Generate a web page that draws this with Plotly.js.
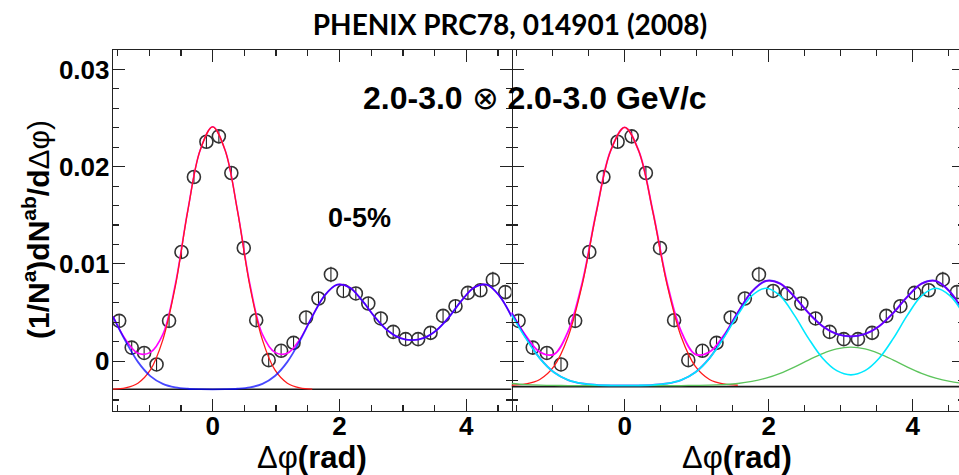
<!DOCTYPE html>
<html>
<head>
<meta charset="utf-8">
<script src="https://cdn.plot.ly/plotly-3.0.1.min.js"></script>
<style>
html, body { margin: 0; padding: 0; overflow: hidden; background: #fff; }
#chart { width: 964px; height: 475px; }
</style>
</head>
<body>
<div id="chart"></div>
<script>
// ---- data ----
const chartTitle = 'PHENIX PRC78, 014901 (2008)';
const ptLabel = '2.0-3.0 ⊗ 2.0-3.0 GeV/c';
const centLabel = '0-5%';

// bin centres of the 32 delta-phi bins (rad)
const phiBins = [-1.473, -1.276, -1.080, -0.884, -0.687, -0.491, -0.295, -0.098,
                  0.098,  0.295,  0.491,  0.687,  0.884,  1.080,  1.276,  1.473,
                  1.669,  1.865,  2.062,  2.258,  2.454,  2.651,  2.847,  3.043,
                  3.240,  3.436,  3.633,  3.829,  4.025,  4.222,  4.418,  4.614];
const pairYield = [0.00414, 0.00139, 0.00084, -0.00034, 0.00414, 0.01123, 0.01894, 0.02256,
                   0.02312, 0.01935, 0.01164, 0.00421, 0.00010, 0.00106, 0.00188, 0.00449,
                   0.00644, 0.00891, 0.00722, 0.00696, 0.00593, 0.00439, 0.00301, 0.00226,
                   0.00226, 0.00291, 0.00465, 0.00565, 0.00702, 0.00729, 0.00838, 0.00710];
const yieldErr = [0.0007, 0.0007, 0.0007, 0.0007, 0.0007, 0.0007, 0.0007, 0.0007,
                  0.0007, 0.0007, 0.0007, 0.0007, 0.0007, 0.0007, 0.0007, 0.0007,
                  0.0007, 0.0008, 0.0007, 0.0007, 0.0007, 0.0007, 0.0007, 0.0007,
                  0.0007, 0.0007, 0.0007, 0.0007, 0.0007, 0.0007, 0.0008, 0.0007];

// sample points of the fit curves (rad)
const curveX = [-1.571, -1.374, -1.178, -0.982, -0.785, -0.589, -0.393, -0.196, 0.000,
                 0.196,  0.393,  0.589,  0.785,  0.982,  1.178,  1.374,  1.571,
                 1.767,  1.963,  2.160,  2.356,  2.553,  2.749,  2.945,  3.142,
                 3.338,  3.534,  3.731,  3.927,  4.123,  4.320,  4.516,  4.712];
const nearX = [-1.571, -1.374, -1.178, -0.982, -0.785, -0.589, -0.393, -0.196, 0.000,
                0.196,  0.393,  0.589,  0.785,  0.982,  1.178,  1.374,  1.571];

// left panel curves
const nearLeft = [-0.00287, -0.00274, -0.00227, -0.00091, 0.00219, 0.00766, 0.0154, 0.0217, 0.0241,
                  0.0217, 0.0154, 0.00766, 0.00219, -0.00091, -0.00227, -0.00274, -0.00287];
const totalLeft = [0.00461, 0.00223, 0.0008, 0.0009, 0.00275, 0.00786, 0.01546, 0.02171, 0.0241,
                   0.02171, 0.01546, 0.00786, 0.00275, 0.0009, 0.0008, 0.00223, 0.00461,
                   0.00676, 0.00786, 0.00758, 0.00624, 0.00457, 0.0032, 0.0024, 0.00215,
                   0.0024, 0.0032, 0.00457, 0.00624, 0.00758, 0.00786, 0.00676, 0.00462];
const awayLeft = [0.00458, 0.00207, -0.00008, -0.00154, -0.00234, -0.0027, -0.00284, -0.00289, -0.0029,
                  -0.00289, -0.00284, -0.0027, -0.00234, -0.00153, -0.00008, 0.00207, 0.00458,
                  0.00676, 0.00786, 0.00758, 0.00624, 0.00457, 0.0032, 0.0024, 0.00215,
                  0.0024, 0.0032, 0.00457, 0.00624, 0.00758, 0.00786, 0.00676, 0.00459];

// right panel curves
const nearRight = [-0.00248, -0.00235, -0.00189, -0.00055, 0.0025, 0.00787, 0.0153, 0.0216, 0.02404,
                   0.0216, 0.0153, 0.00787, 0.0025, -0.00055, -0.00189, -0.00235, -0.00248];
const totalRight = [0.005, 0.00262, 0.00093, 0.0007, 0.00306, 0.00807, 0.01536, 0.02162, 0.02404,
                    0.02162, 0.01536, 0.00807, 0.00306, 0.0007, 0.00093, 0.00262, 0.005,
                    0.00715, 0.00825, 0.00797, 0.00663, 0.00496, 0.00359, 0.00279, 0.00254,
                    0.00279, 0.00359, 0.00496, 0.00663, 0.00797, 0.00825, 0.00715, 0.00501];
const awayRight = [0.00497, 0.00246, 0.00031, -0.00115, -0.00195, -0.00231, -0.00245, -0.0025, -0.00251,
                   -0.0025, -0.00245, -0.00231, -0.00195, -0.00114, 0.00031, 0.00246, 0.00497,
                   0.00715, 0.00825, 0.00797, 0.00663, 0.00496, 0.00359, 0.00279, 0.00254,
                   0.00279, 0.00359, 0.00496, 0.00663, 0.00797, 0.00825, 0.00715, 0.00498];
const shoulderRight = [0.00476, 0.00236, 0.00027, -0.00116, -0.00195, -0.00231, -0.00245, -0.0025, -0.00251,
                       -0.0025, -0.00245, -0.00231, -0.00195, -0.00116, 0.00027, 0.00236, 0.00476,
                       0.00673, 0.00749, 0.00671, 0.00473, 0.00234, 0.0003, -0.00098, -0.00141,
                       -0.00098, 0.0003, 0.00234, 0.00473, 0.00671, 0.00749, 0.00673, 0.00477];
const headRight = [-0.0023, -0.00241, -0.00247, -0.0025, -0.00251, -0.00251, -0.00251, -0.00251, -0.00251,
                   -0.00251, -0.00251, -0.00251, -0.00251, -0.00249, -0.00247, -0.00241, -0.0023,
                   -0.00209, -0.00175, -0.00125, -0.00061, 0.00011, 0.00078, 0.00126, 0.00144,
                   0.00126, 0.00078, 0.00011, -0.00061, -0.00125, -0.00175, -0.00209, -0.0023];

// pedestal lines
const baseX = [-1.5708, 4.7124];
const baseLeft = [-0.0029, -0.0029];
const baseRight = [-0.00262, -0.00262];

// axes
const phiRange = [-1.5708, 4.7124];
const yRange = [-0.00513, 0.032];
const xTickVals = [0, 2, 4];
const xTickText = ['0', '2', '4'];
const yTickVals = [0, 0.01, 0.02, 0.03];
const yTickText = ['0', '0.01', '0.02', '0.03'];

// ---- drawing ----
const boldFont = 'Liberation Sans, Arial, Helvetica, sans-serif';

function points(xa, ya) {
  return {
    x: phiBins, y: pairYield, xaxis: xa, yaxis: ya, type: 'scatter', mode: 'markers',
    marker: { symbol: 'circle-open', size: 13, color: '#333', line: { width: 1.6, color: '#333' } },
    error_y: { type: 'data', array: yieldErr, visible: true, color: '#222', thickness: 1.1, width: 0 },
    hoverinfo: 'skip'
  };
}
function line(x, y, xa, ya, color, width, opacity) {
  return {
    x: x, y: y, xaxis: xa, yaxis: ya, type: 'scatter', mode: 'lines',
    line: { color: color, width: width, shape: 'spline', smoothing: 1 },
    opacity: opacity === undefined ? 1 : opacity, hoverinfo: 'skip'
  };
}

const traces = [
  // left panel
  line(baseX, baseLeft, 'x', 'y', '#1a1a1a', 1.6),
  points('x', 'y'),
  line(curveX, totalLeft, 'x', 'y', '#ff00ff', 1.6),
  line(nearX, nearLeft, 'x', 'y', '#ff1a1a', 1.3),
  line(curveX, awayLeft, 'x', 'y', '#0000ff', 1.8, 0.72),
  // right panel
  line(baseX, baseRight, 'x2', 'y2', '#1a1a1a', 1.6),
  points('x2', 'y2'),
  line(curveX, totalRight, 'x2', 'y2', '#ff00ff', 1.8),
  line(nearX, nearRight, 'x2', 'y2', '#ff1a1a', 1.3),
  line(curveX, awayRight, 'x2', 'y2', '#0000ff', 2.0, 0.62),
  line(curveX, headRight, 'x2', 'y2', '#5cc45c', 1.3),
  line(curveX, shoulderRight, 'x2', 'y2', '#00e8ff', 1.6)
];

const tickFont = { family: boldFont, size: 26, weight: 'bold', color: '#000' };

function xAxis(domain, anchor) {
  return {
    domain: domain, anchor: anchor, range: phiRange, autorange: false,
    tickmode: 'array', tickvals: xTickVals, ticktext: xTickText,
    ticks: 'inside', ticklen: 12, tickwidth: 1.2, tickcolor: '#222',
    minor: { tickmode: 'linear', tick0: 0, dtick: 0.5, ticks: 'inside', ticklen: 6, tickwidth: 1.2, tickcolor: '#222' },
    showline: true, linecolor: '#222', linewidth: 1.3, mirror: 'allticks',
    showgrid: false, zeroline: false, tickfont: tickFont, ticklabelstandoff: -9, fixedrange: true
  };
}
function yAxis(anchor, labels) {
  return {
    domain: [0, 1], anchor: anchor, range: yRange, autorange: false,
    tickmode: 'array', tickvals: yTickVals, ticktext: yTickText,
    ticks: 'inside', ticklen: 12, tickwidth: 1.2, tickcolor: '#222',
    minor: { tickmode: 'linear', tick0: 0, dtick: 0.002, ticks: 'inside', ticklen: 6, tickwidth: 1.2, tickcolor: '#222' },
    showline: labels, linecolor: '#222', linewidth: 1.3, mirror: 'allticks',
    showgrid: false, zeroline: false, showticklabels: labels, tickfont: tickFont,
    ticklabelstandoff: -3, fixedrange: true
  };
}

const splitFrac = 0.4683;

const layout = {
  width: 964, height: 475,
  margin: { l: 113, r: 0, t: 50, b: 64 },
  paper_bgcolor: '#fff', plot_bgcolor: '#fff',
  showlegend: false,
  title: {
    text: '<b>' + chartTitle + '</b>',
    font: { family: 'Lato, Noto Sans, sans-serif', size: 28, color: '#000' },
    xref: 'container', x: 510 / 964, xanchor: 'center',
    yref: 'container', y: 1 - 25 / 475, yanchor: 'middle'
  },
  xaxis: xAxis([0, splitFrac], 'y'),
  xaxis2: xAxis([splitFrac, 1], 'y2'),
  yaxis: yAxis('x', true),
  yaxis2: yAxis('x2', false),
  annotations: [
    { text: '<b>2.0-3.0 </b>⊗<b> 2.0-3.0 GeV/c</b>', xref: 'paper', yref: 'paper',
      x: 0.4959, y: 0.867, xanchor: 'center', yanchor: 'middle', showarrow: false,
      font: { family: boldFont, size: 32, color: '#000' } },
    { text: '<b>' + centLabel + '</b>', xref: 'paper', yref: 'paper',
      x: 0.2902, y: 0.5346, xanchor: 'center', yanchor: 'middle', showarrow: false,
      font: { family: boldFont, size: 27, color: '#000' } },
    { text: 'Δφ<b>(rad)</b>', xref: 'paper', yref: 'paper',
      x: 0.2338, y: -0.13, xanchor: 'center', yanchor: 'middle', showarrow: false,
      font: { family: boldFont, size: 31, color: '#000' } },
    { text: 'Δφ<b>(rad)</b>', xref: 'paper', yref: 'paper',
      x: 0.733, y: -0.13, xanchor: 'center', yanchor: 'middle', showarrow: false,
      font: { family: boldFont, size: 31, color: '#000' } },
    { text: '<b>(1/N<sup>a</sup>)dN<sup>ab</sup>/d</b>Δφ)', xref: 'paper', yref: 'paper',
      x: -0.0905, y: 0.504, xanchor: 'center', yanchor: 'middle', showarrow: false,
      textangle: -90,
      font: { family: boldFont, size: 30, color: '#000' } }
  ]
};

Plotly.newPlot('chart', traces, layout, { displayModeBar: false, staticPlot: true });
</script>
</body>
</html>
